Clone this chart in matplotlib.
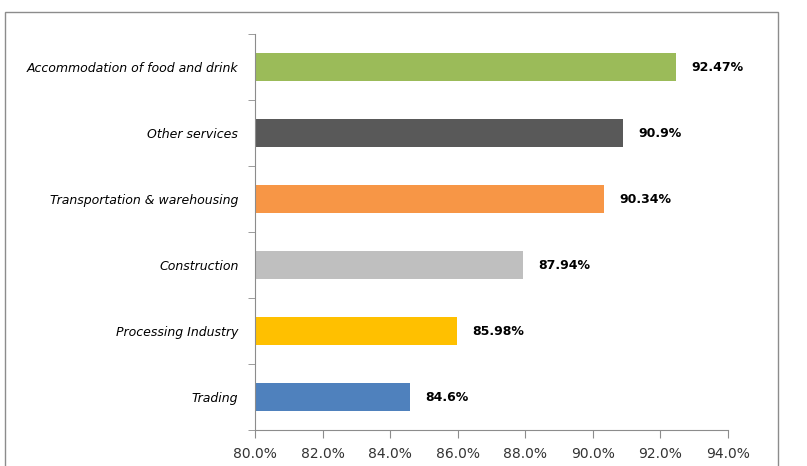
import matplotlib.pyplot as plt
from matplotlib.patches import Rectangle
from matplotlib.ticker import FuncFormatter
import numpy as np

# data, bottom to top as drawn
sectors = ["Trading", "Processing Industry", "Construction",
           "Transportation & warehousing", "Other services",
           "Accommodation of food and drink"]
rates = [84.6, 85.98, 87.94, 90.34, 90.9, 92.47]
labels = ["84.6%", "85.98%", "87.94%", "90.34%", "90.9%", "92.47%"]
colors = ["#4F81BD", "#FFC000", "#BFBFBF", "#F79646", "#595959", "#9BBB59"]

fig = plt.figure(figsize=(8.07, 4.66), dpi=100)
ax = fig.add_axes([0.316, 0.077, 0.586, 0.85])

# outer chart frame
fig.patches.append(Rectangle((5 / 807, -0.01), 773 / 807, 1 - 12 / 466 + 0.01,
                             transform=fig.transFigure, fill=False,
                             edgecolor="#8c8c8c", linewidth=1.0))

y = np.arange(len(sectors))
ax.barh(y, [r - 80 for r in rates], left=80, height=0.42, color=colors)

for yi, r, lab in zip(y, rates, labels):
    ax.text(r + 0.45, yi, lab, va="center", ha="left", fontsize=9,
            fontweight="bold", color="black")

ax.set_xlim(80, 94)
ax.set_ylim(-0.5, len(sectors) - 0.5)
ax.set_xticks(np.arange(80, 94.1, 2))
ax.xaxis.set_major_formatter(FuncFormatter(lambda v, p: f"{v:.1f}%"))
ax.set_yticks(y)
ax.set_yticklabels(sectors, fontstyle="italic", fontsize=9)
ax.set_yticks(np.arange(-0.5, len(sectors), 1), minor=True)
ax.tick_params(axis="y", which="major", length=0, pad=12)
ax.tick_params(axis="y", which="minor", length=5, color="#8c8c8c")
ax.tick_params(axis="x", length=6, color="#8c8c8c", labelsize=10, pad=6,
               labelcolor="#333333")

for s in ["top", "right"]:
    ax.spines[s].set_visible(False)
for s in ["left", "bottom"]:
    ax.spines[s].set_color("#8c8c8c")

fig.savefig("out.png", dpi=100)
